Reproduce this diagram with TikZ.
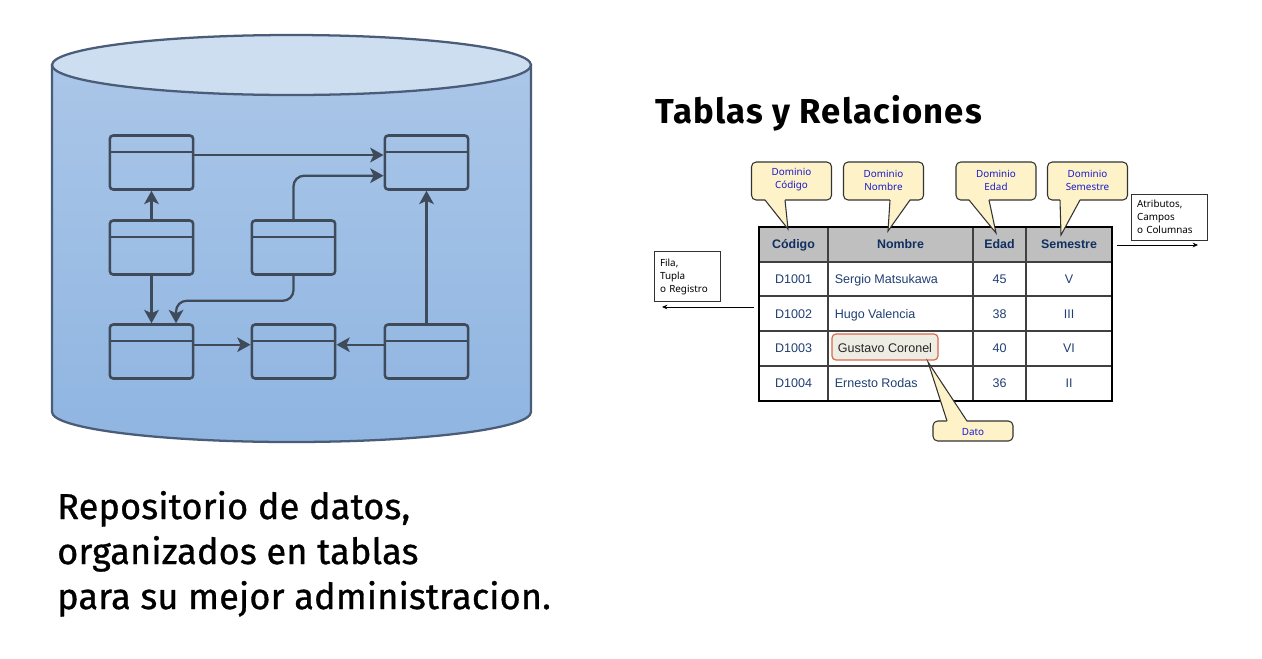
\documentclass[tikz,border=0pt]{standalone}
\usepackage{fontspec}
\usepackage{xcolor}
\usepackage{tikz}
\usetikzlibrary{arrows.meta}
\setmainfont{Fira Sans}
\newfontfamily\titlefont[LetterSpace=3.3]{Fira Sans}
\newfontfamily\bigfont[LetterSpace=0.6,FakeBold=0.9]{Fira Sans}
\newfontfamily\cellfont{Liberation Sans}
\newfontfamily\notefont{Noto Sans}
\definecolor{bodytop}{HTML}{AAC6E8}
\definecolor{bodybot}{HTML}{8FB5E1}
\definecolor{lidfill}{HTML}{CEDEF1}
\definecolor{cylline}{HTML}{4A5C78}
\definecolor{tblline}{HTML}{3F4B5A}
\definecolor{cellblue}{HTML}{1F3F73}
\definecolor{headblue}{HTML}{0F2F60}
\definecolor{creamfill}{HTML}{FDF2C8}
\definecolor{noteblue}{HTML}{1A1ACC}
\definecolor{datofill}{HTML}{EEEDE3}
\definecolor{datoline}{HTML}{D9674A}
\tikzset{
  tbl/.style={draw=tblline,line width=1.9pt,rounded corners=2.5pt,minimum width=62.5pt,minimum height=40.5pt,inner sep=0pt,
    path picture={\draw[tblline,line width=1.5pt] ([yshift=-12pt]path picture bounding box.north west) -- ([yshift=-12pt]path picture bounding box.north east);}},
  link/.style={draw=tblline,line width=1.7pt,-{Stealth[length=10pt,width=11pt,inset=2.5pt]}},
  thinlink/.style={link,line width=1.2pt},
  dom/.style={draw=black!80,fill=creamfill,line width=.8pt,rounded corners=3.5pt,minimum width=60pt,minimum height=28.5pt,inner sep=0pt,align=center,text=noteblue,font=\notefont\fontsize{7.4}{9.8}\selectfont},
  side/.style={draw=black!80,fill=white,line width=.6pt,inner xsep=4.5pt,inner ysep=0pt,align=left,font=\notefont\fontsize{7.4}{9.8}\selectfont},
  cell/.style={text=cellblue,font=\cellfont\fontsize{9.4}{11}\selectfont,inner sep=0pt,anchor=base},
  headcell/.style={text=headblue,font=\cellfont\bfseries\fontsize{9.3}{11}\selectfont,inner sep=0pt,anchor=base}
}
\begin{document}
\begin{tikzpicture}[x=0.75pt,y=-0.75pt]
  \useasboundingbox (0,0) rectangle (1262,658);
  % cylinder
  \draw[cylline,line width=1.7pt,top color=bodytop,bottom color=bodybot] (52,65) -- (52,412)
    arc[start angle=180,end angle=0,x radius=239.5,y radius=30] -- (531,65) -- cycle;
  \draw[cylline,line width=1.7pt,fill=lidfill] (291.5,65) ellipse [x radius=239.5,y radius=30];
  % small tables
  \node[tbl] (A) at (151.5,162.5) {};
  \node[tbl] (B) at (426.5,162.5) {};
  \node[tbl] (C) at (151.5,247.5) {};
  \node[tbl] (D) at (293.5,247.5) {};
  \node[tbl] (E) at (151.5,351.5) {};
  \node[tbl] (F) at (293.5,351.5) {};
  \node[tbl] (G) at (426.5,351.5) {};
  \draw[link] ([yshift=5.6pt]A.east) -- ([yshift=5.6pt]B.west);
  \draw[link,rounded corners=8pt] (D.north) |- ([yshift=-9.9pt]B.west);
  \draw[link] (C.north) -- (A.south);
  \draw[link] (C.south) -- (E.north);
  \draw[link,rounded corners=8pt] (D.south) -- ++(0,25) -| ([xshift=18.4pt]E.north);
  \draw[thinlink] ([yshift=5.1pt]E.east) -- ([yshift=5.1pt]F.west);
  \draw[thinlink] ([yshift=5.1pt]G.west) -- ([yshift=5.1pt]F.east);
  \draw[link] (G.north) -- (B.south);
  % texts
  \node[anchor=base west,inner sep=0pt,font=\titlefont\bfseries\fontsize{26}{30}\selectfont] (title) at (655,123) {Tablas y Relaciones};
  \node[anchor=base west,inner sep=0pt,font=\bigfont\fontsize{27}{33}\selectfont] (line1) at (57,519) {Repositorio de datos,};
  \node[anchor=base west,inner sep=0pt,font=\bigfont\fontsize{27}{33}\selectfont] (line2) at (57,564) {organizados en tablas};
  \node[anchor=base west,inner sep=0pt,font=\bigfont\fontsize{27}{33}\selectfont] (line3) at (57,609) {para su mejor administracion.};
  % table
  \fill[black!25] (759,227) rectangle (1112,262);
  \foreach \y in {262,296,331,366}{
    \draw[black!75,line width=1.2pt] (759,\y) -- (1112,\y);
  }
  \foreach \x in {828,973,1026}{
    \draw[black!75,line width=1.2pt] (\x,227) -- (\x,401);
  }
  \draw[black,line width=1.8pt] (759,227) rectangle (1112,401);
  \node[headcell] (h-cod) at (793.5,248.5) {Código};
  \node[headcell] (h-nom) at (900.5,248.5) {Nombre};
  \node[headcell] (h-eda) at (999.5,248.5) {Edad};
  \node[headcell] (h-sem) at (1069,248.5) {Semestre};
  \foreach \row/\y/\code/\nombre/\edad/\sem in {1/283.5/D1001/Sergio Matsukawa/45/V,2/318.5/D1002/Hugo Valencia/38/III,3/352.5/D1003/{}/40/VI,4/387.5/D1004/Ernesto Rodas/36/II}{
    \node[cell] (cod-\row) at (793.5,\y) {\code};
    \node[cell,anchor=base west] (nom-\row) at (834.5,\y) {\nombre};
    \node[cell] (eda-\row) at (999.5,\y) {\edad};
    \node[cell] (sem-\row) at (1069,\y) {\sem};
  }
  \node[draw=datoline,fill=datofill,line width=.9pt,rounded corners=3pt,minimum width=79.5pt,minimum height=19.5pt,inner sep=0pt] (dato) at (885,347) {};
  \node[cell,text=black!85] (tdato) at (885,352.5) {Gustavo Coronel};
  % callouts
  \foreach \name/\cx/\cy/\bl/\br/\tipx/\tipy/\txt in {dcod/791.5/181/765/785/788/229/{Dominio\\Código},dnom/883.5/181/890/910/888/231/{Dominio\\Nombre},deda/996/181/969/989/996/233/{Dominio\\Edad},dsem/1087.5/181/1060/1080/1061/235/{Dominio\\Semestre}}{
    \node[dom] (\name) at (\cx,\cy) {\txt\par\vspace{1.5pt}};
    \fill[creamfill] (\bl,199) -- (\tipx,\tipy) -- (\br,199) -- cycle;
    \draw[black!80,line width=.8pt] (\bl,200) -- (\tipx,\tipy) -- (\br,200);
  }
  \node[dom,minimum height=15pt] (ndato) at (973,431) {};
  \fill[creamfill] (947,422) -- (928,362) -- (967,422) -- cycle;
  \draw[black!80,line width=.8pt] (947,421) -- (928,362) -- (967,421);
  \node[text=noteblue,inner sep=0pt,font=\notefont\fontsize{7.4}{9.8}\selectfont] (ldato) at (973,432) {Dato};
  % side notes
  \node[side,minimum height=38pt,text width=40.5pt] (fila) at (687,276.5) {Fila,\\Tupla\\o Registro\par\vspace{4.5pt}};
  \node[side,minimum height=34.5pt,text width=48pt] (atr) at (1169,217) {Atributos,\\Campos\\o Columnas};
  \coordinate (fs) at (754,307);
  \coordinate (fe) at (662,307);
  \coordinate (as) at (1117,245);
  \coordinate (ae) at (1198,245);
  \draw[line width=.6pt,-{Stealth[length=4pt,width=3.5pt]}] (fs) -- (fe);
  \draw[line width=.6pt,-{Stealth[length=4pt,width=3.5pt]}] (as) -- (ae);
\end{tikzpicture}
\end{document}
